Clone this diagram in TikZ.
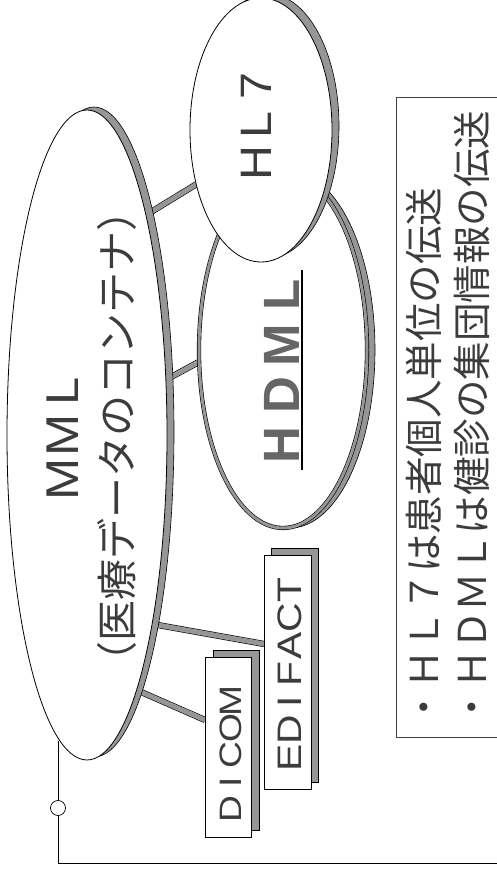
\documentclass[tikz,border=0pt]{standalone}
\usepackage{fontspec}
\newfontfamily\jp{Noto Sans CJK JP}
\newfontfamily\lat[FakeStretch=1.1]{Liberation Sans}
\newfontfamily\latwide[FakeStretch=1.2]{Liberation Sans}
\newfontfamily\latbold{Liberation Sans Bold}
\usetikzlibrary{shapes.geometric,backgrounds,calc}
\definecolor{shade}{RGB}{150,150,150}
\definecolor{ink}{RGB}{60,60,60}
\newcommand\cell[2]{\makebox[#1][c]{#2}}
\begin{document}
\begin{tikzpicture}[x=1pt,y=1pt,
  bubble/.style={ellipse, draw=black, line width=0.8pt, fill=white, inner sep=0pt, outer sep=0pt},
  bubbleshadow/.style={ellipse, draw=black, line width=0.6pt, fill=shade, inner sep=0pt, outer sep=0pt},
  tag/.style={rectangle, draw=black, line width=0.8pt, fill=white, inner sep=0pt, outer sep=0pt},
  tagshadow/.style={rectangle, draw=black, line width=0.6pt, fill=shade, inner sep=0pt, outer sep=0pt},
  link/.style={draw=black, line width=0.6pt, double=shade, double distance=5pt},
  vtext/.style={rotate=90, inner sep=0pt, text=ink},
  thinline/.style={draw=black, line width=0.7pt},
]
\useasboundingbox (0,0) rectangle (497,873);
\clip (0,0) rectangle (497,873);
% MML
\node[bubbleshadow, minimum width=160pt, minimum height=650pt] (mmlshadow) at (94,441) {};
\node[bubble, minimum width=160pt, minimum height=650pt] (mml) at (87,438) {};
% HDML
\node[bubbleshadow, minimum width=170pt, minimum height=356pt] (hdmlshadow) at (290,523) {};
\node[bubble, double=shade, double distance=3pt, line width=0.6pt, minimum width=168pt, minimum height=356pt] (hdml) at (283,523) {};
% HL7
\node[bubbleshadow, minimum width=142pt, minimum height=264pt] (hl7shadow) at (268,747) {};
\node[bubble, minimum width=142pt, minimum height=264pt] (hl7) at (261,743) {};
% boxes
\node[tagshadow, minimum width=46pt, minimum height=180pt] (dicomshadow) at (236,133) {};
\node[tag, minimum width=46pt, minimum height=180pt] (dicom) at (228,126) {};
\node[tagshadow, minimum width=47pt, minimum height=234pt] (edifactshadow) at (295,208) {};
\node[tag, minimum width=47pt, minimum height=234pt] (edifact) at (287.5,201) {};
% connectors
\begin{scope}[on background layer]
\draw[link] (mml.75) -- (hl7.220);
\draw[link] (mml.35) -- (hdml.188);
\draw[link] (mml.289) -- ([yshift=28pt]edifact.west);
\draw[link] (mml.281) -- ([yshift=27pt]dicom.west);
\end{scope}
% texts
\node[vtext, font={\lat\fontsize{46pt}{46pt}\selectfont}] (mmltitle) at (63,438) {\cell{44pt}{M}\cell{44pt}{M}\cell{44pt}{L}};
\node[vtext, font={\jp\fontsize{41pt}{41pt}\selectfont}] (mmlsub) at (117,436) {（医療データのコンテナ）};
\node[vtext, font={\lat\fontsize{44pt}{44pt}\selectfont}] (hl7label) at (256,748) {\cell{38.5pt}{H}\cell{38.5pt}{L}\cell{38.5pt}{7}};
\node[vtext, font={\latbold\fontsize{51pt}{51pt}\selectfont}, text=black!60, text depth=0pt, inner ysep=3pt] (hdmllabel) at (281.5,503) {\cell{50pt}{H}\cell{50pt}{D}\cell{50pt}{M}\cell{50pt}{L}};
\draw[line width=1.5pt] (hdmllabel.south west) -- (hdmllabel.south east);
\node[vtext, font={\latwide\fontsize{31pt}{31pt}\selectfont}] (dicomlabel) at (231,118) {\cell{27pt}{D}\cell{27pt}{I}\cell{27pt}{C}\cell{27pt}{O}\cell{27pt}{M}};
\node[vtext, font={\latwide\fontsize{34pt}{34pt}\selectfont}] (edifactlabel) at (289.5,199) {\cell{28pt}{E}\cell{28pt}{D}\cell{28pt}{I}\cell{28pt}{F}\cell{28pt}{A}\cell{28pt}{C}\cell{28pt}{T}};
% note box
\draw[draw=black!75, line width=0.8pt] (396,136) rectangle (520,776);
\node[vtext, anchor=west, font={\jp\fontsize{38.5pt}{38.5pt}\selectfont}] (note1) at (424,146) {・ＨＬ７は患者個人単位の伝送};
\node[vtext, anchor=west, font={\jp\fontsize{38.5pt}{38.5pt}\selectfont}] (note2) at (472,146) {・ＨＤＭＬは健診の集団情報の伝送};
% bottom line
\node[circle, thinline, fill=white, minimum size=15pt, inner sep=0pt] (knob) at (58,65) {};
\coordinate (lineend) at (520,10);
\draw[thinline] (knob.north) -- (knob |- mml.265);
\draw[thinline] (knob.south) |- (lineend);
\end{tikzpicture}
\end{document}
